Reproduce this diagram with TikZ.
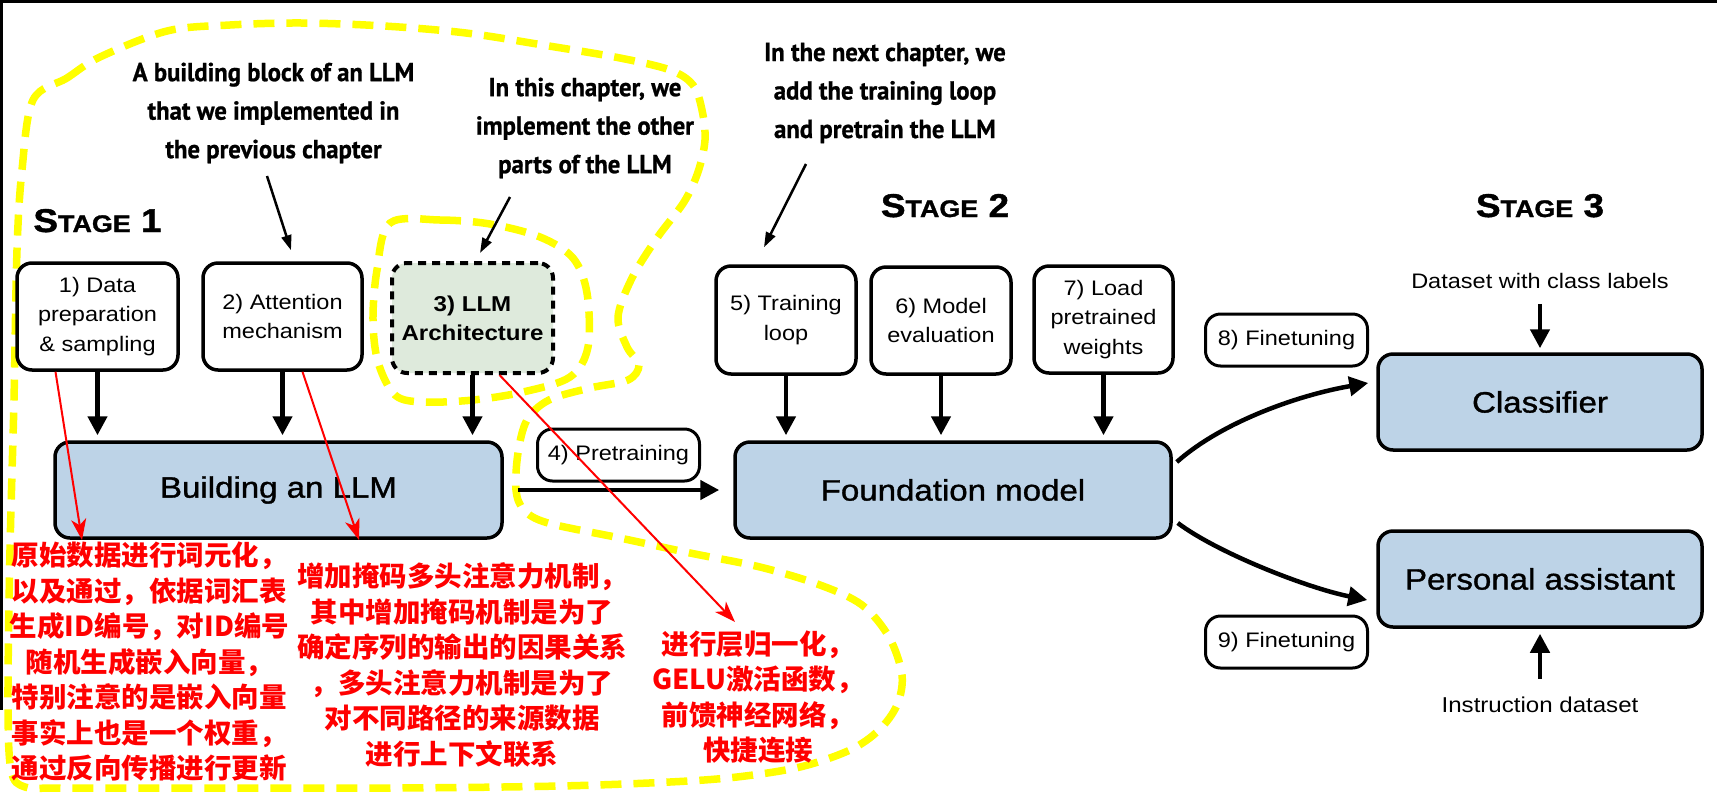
\documentclass[tikz,border=0pt]{standalone}
\usepackage{fontspec}
\setmainfont{Liberation Sans}
\newfontfamily\hvfont[FakeStretch=1.12]{Liberation Sans}
\newfontfamily\hvmedfont[FakeStretch=1.12,FakeBold=1.2]{Liberation Sans}
\newfontfamily\gsfont[FakeStretch=0.95,FakeBold=0.8]{PT Sans}
\newfontfamily\cjkfont{Noto Sans CJK SC}
\usetikzlibrary{arrows.meta}
\definecolor{boxblue}{RGB}{189,211,231}
\definecolor{boxgreen}{RGB}{222,234,220}
\definecolor{hlyellow}{RGB}{255,255,0}
\definecolor{notered}{RGB}{255,0,0}
\begin{document}
\begin{tikzpicture}[x=1pt,y=-1pt,
  stagebox/.style={draw=black,line width=3.5pt,rounded corners=15pt,fill=white,align=center,inner sep=0pt,font=\hvfont\fontsize{21}{29.5}\selectfont},
  bigbox/.style={stagebox,fill=boxblue,font=\hvmedfont\fontsize{29.5}{34}\selectfont,minimum height=96pt},
  tagbox/.style={draw=black,line width=3pt,rounded corners=15pt,fill=white,inner sep=0pt,minimum width=162pt,minimum height=52pt,font=\hvfont\fontsize{21}{25}\selectfont},
  annot/.style={align=center,inner sep=0pt,font=\gsfont\bfseries\fontsize{26}{38.5}\selectfont},
  redtxt/.style={align=center,inner sep=0pt,text=notered,font=\cjkfont\bfseries\fontsize{27.5}{35.5}\selectfont},
  plaintxt/.style={inner sep=0pt,font=\hvfont\fontsize{21}{24}\selectfont},
  stagetxt/.style={inner sep=0pt,anchor=base,font=\hvmedfont\bfseries},
  blkarr/.style={line width=4.5pt,-{Triangle[length=19pt,width=19pt]}},
  annarr/.style={line width=2.5pt,-{Triangle[length=15pt,width=10pt]}},
  redarr/.style={line width=2pt,draw=notered,-{Stealth[length=21pt,width=15pt,inset=6pt]}},
  yel/.style={draw=hlyellow,line width=7.5pt,dash pattern=on 21pt off 12pt},
]
\fill[white] (0,0) rectangle (1717,796);
\useasboundingbox (0,0) rectangle (1717,796);
\draw[line width=3pt] (0,1.5) -- (1717,1.5);
\draw[line width=3pt] (1.5,0) -- (1.5,710);

% yellow outlines
\draw[yel] plot[smooth cycle,tension=0.55] coordinates {
 (33,100) (67,78) (100,57) (167,31) (230,25) (302,23) (384,26) (466,33) (549,46) (620,58) (670,70) (693,85) (702,110) (705,140) (698,172) (684,202) (657,238) (632,278) (618,317) (627,347) (639,365) (628,380) (590,388) (549,400) (527,420) (518,453) (516,490) (524,510) (548,523) (620,538) (690,553) (760,567) (820,585) (862,605) (889,637) (902,675) (897,705) (879,730) (850,750) (800,767) (737,777) (670,782) (560,786) (400,788) (200,788) (60,788) (25,787) (11,770) (8,700) (10,550) (14,400) (17,250) (22,170)};
\draw[yel] plot[smooth cycle,tension=0.55] coordinates {
 (390,223) (440,220) (490,224) (540,237) (573,258) (587,293) (588,347) (570,377) (523,392) (473,400) (423,402) (395,395) (378,362) (373,320) (377,270)};

% stage labels
\node[stagetxt] (s1) at (97.5,232) {\fontsize{33}{33}\selectfont S\fontsize{24}{24}\selectfont TAGE\fontsize{33}{33}\selectfont{} 1};
\node[stagetxt] (s2) at (945,217) {\fontsize{33}{33}\selectfont S\fontsize{24}{24}\selectfont TAGE\fontsize{33}{33}\selectfont{} 2};
\node[stagetxt] (s3) at (1540,217) {\fontsize{33}{33}\selectfont S\fontsize{24}{24}\selectfont TAGE\fontsize{33}{33}\selectfont{} 3};

% boxes
\node[stagebox,minimum width=161pt,minimum height=107pt] (b1) at (97.5,316.5) {1) Data\\preparation\\\& sampling};
\node[stagebox,minimum width=159pt,minimum height=107pt] (b2) at (282.5,316.5) {2) Attention\\mechanism};
\node[stagebox,fill=boxgreen,line width=4pt,dash pattern=on 8pt off 6pt,minimum width=161pt,minimum height=110pt,font=\hvfont\bfseries\fontsize{21.5}{29}\selectfont] (b3) at (472.5,318) {3) LLM\\Architecture};
\node[stagebox,minimum width=140pt,minimum height=108pt] (b5) at (786,320) {5) Training\\loop};
\node[stagebox,minimum width=140pt,minimum height=107pt] (b6) at (941,320.5) {6) Model\\evaluation};
\node[stagebox,minimum width=139pt,minimum height=107pt] (b7) at (1103.5,319.5) {7) Load\\pretrained\\weights};

\node[bigbox,minimum width=447pt] (build) at (278.5,490) {Building an LLM};
\node[bigbox,minimum width=436pt] (found) at (953,490) {Foundation model};
\node[bigbox,minimum width=324pt] (cls) at (1540,402) {Classifier};
\node[bigbox,minimum width=324pt] (pa) at (1540,579) {Personal assistant};

\node[tagbox] (f4) at (618.5,455) {4) Pretraining};
\node[tagbox] (f8) at (1286.5,340) {8) Finetuning};
\node[tagbox] (f9) at (1286.5,642) {9) Finetuning};

\node[plaintxt] (dsl) at (1540,281) {Dataset with class labels};
\node[plaintxt,font=\hvfont\fontsize{21.5}{24}\selectfont] (insl) at (1540,705) {Instruction dataset};

% annotations
\node[annot] (t1) at (273.5,113) {A building block of an LLM\\that we implemented in\\the previous chapter};
\node[annot] (t2) at (585,128) {In this chapter, we\\implement the other\\parts of the LLM};
\node[annot] (t3) at (885,93) {In the next chapter, we\\add the training loop\\and pretrain the LLM};

% red notes
\node[redtxt] (red1) at (149.5,662) {原始数据进行词元化，\\以及通过，依据词汇表\\生成ID编号，对ID编号\\随机生成嵌入向量，\\特别注意的是嵌入向量\\事实上也是一个权重，\\通过反向传播进行更新};
\node[redtxt] (red2) at (462,665) {增加掩码多头注意力机制，\\其中增加掩码机制是为了\\确定序列的输出的因果关系\\，多头注意力机制是为了\\对不同路径的来源数据\\进行上下文联系};
\node[redtxt] (red3) at (758,697) {进行层归一化，\\GELU激活函数，\\前馈神经网络，\\快捷连接};

% black arrows
\foreach \b in {b1,b2,b3} \draw[blkarr,shorten >=5pt] (\b.south) -- (\b.south |- build.north);
\foreach \b in {b5,b6,b7} \draw[blkarr,shorten >=5pt] (\b.south) -- (\b.south |- found.north);
\draw[blkarr,shorten <=14pt,shorten >=14pt] (build.east) -- (found.west);
\draw[blkarr,shorten <=15pt,shorten >=4pt] (dsl) -- (cls);
\draw[blkarr,shorten <=18pt,shorten >=5pt] (insl) -- (pa);
\draw[blkarr] ([xshift=4pt,yshift=28pt]found.east) .. controls +(45,-40) and +(-70,12) .. ([xshift=-8pt,yshift=19pt]cls.west);
\draw[blkarr] ([xshift=5pt,yshift=-33pt]found.east) .. controls +(40,30) and +(-60,-12) .. ([xshift=-9pt,yshift=-21pt]pa.west);

% annotation arrows
\coordinate (a1s) at (267,176);
\coordinate (a2s) at (510,197);
\coordinate (a3s) at (806,164);
\draw[annarr] (a1s) -- ([xshift=8.5pt,yshift=11pt]b2.north);
\draw[annarr] (a2s) -- ([xshift=7.5pt,yshift=8pt]b3.north);
\draw[annarr] (a3s) -- ([xshift=-22pt,yshift=17pt]b5.north);

% red arrows
\coordinate (r1t) at (82,540);
\coordinate (r2t) at (359,540);
\coordinate (r3t) at (735,622);
\draw[redarr] ([xshift=-42pt]b1.south) -- (r1t);
\draw[redarr] ([xshift=20pt]b2.south) -- (r2t);
\draw[redarr] ([xshift=27pt]b3.south) -- (r3t);
\end{tikzpicture}
\end{document}
